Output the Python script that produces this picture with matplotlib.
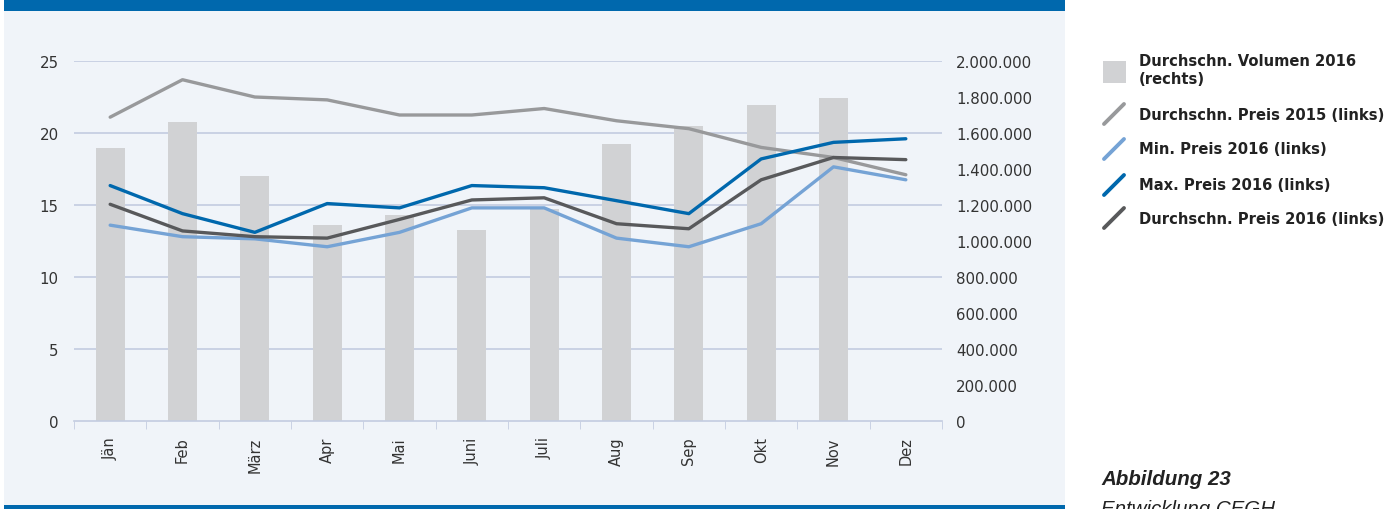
import matplotlib.pyplot as plt
import numpy as np
from matplotlib.lines import Line2D
from matplotlib.patches import Rectangle
from matplotlib.ticker import FuncFormatter

# monthly values
months = ["Jän", "Feb", "März", "Apr", "Mai", "Juni", "Juli", "Aug", "Sep", "Okt", "Nov", "Dez"]
volume_2016 = [1517000, 1661000, 1361000, 1089000, 1144000, 1061000, 1178000,
               1537000, 1637000, 1756000, 1796000, 0]
avg_price_2015 = [21.1, 23.7, 22.5, 22.3, 21.25, 21.25, 21.7, 20.85, 20.3, 19.0, 18.3, 17.1]
min_price_2016 = [13.6, 12.8, 12.65, 12.1, 13.1, 14.8, 14.8, 12.7, 12.1, 13.7, 17.65, 16.75]
max_price_2016 = [16.35, 14.4, 13.1, 15.1, 14.8, 16.35, 16.2, 15.3, 14.4, 18.2, 19.35, 19.6]
avg_price_2016 = [15.05, 13.2, 12.8, 12.7, 14.0, 15.35, 15.5, 13.7, 13.35, 16.75, 18.3, 18.15]

series = [
    ("Durchschn. Preis 2015 (links)", avg_price_2015, "#98999b"),
    ("Min. Preis 2016 (links)", min_price_2016, "#75a3d5"),
    ("Max. Preis 2016 (links)", max_price_2016, "#0068ad"),
    ("Durchschn. Preis 2016 (links)", avg_price_2016, "#58595b"),
]
bar_label = "Durchschn. Volumen 2016\n(rechts)"

BLUE = "#0068ad"
PANEL = "#f0f4f9"
GRID = "#c3cce0"
TEXT = "#333333"
plt.rcParams["font.family"] = ["DejaVu Sans"]

W, H = 1400, 510
fig = plt.figure(figsize=(W / 100, H / 100), dpi=100)
fig.patch.set_facecolor("white")

# background panel and blue bands
fig.add_artist(Rectangle((4 / W, 0), 1061 / W, 1, transform=fig.transFigure,
                         facecolor=PANEL, edgecolor="none", zorder=0))
fig.add_artist(Rectangle((4 / W, 1 - 12 / H), 1061 / W, 12 / H, transform=fig.transFigure,
                         facecolor=BLUE, edgecolor="none", zorder=1))
fig.add_artist(Rectangle((4 / W, 0), 1061 / W, 4 / H, transform=fig.transFigure,
                         facecolor=BLUE, edgecolor="none", zorder=1))

left, right, bottom, top = 74, 942, 422, 62
ax = fig.add_axes([left / W, 1 - bottom / H, (right - left) / W, (bottom - top) / H])
ax.set_facecolor("none")
ax2 = ax.twinx()
ax.set_zorder(ax2.get_zorder() + 1)
ax.patch.set_visible(False)

x = np.arange(len(months))
ax2.bar(x, volume_2016, width=0.4, color="#d1d2d4", zorder=1)
ax2.set_ylim(0, 2000000)
ax2.set_yticks(np.arange(0, 2000001, 200000))
ax2.yaxis.set_major_formatter(FuncFormatter(lambda v, p: f"{int(v):,}".replace(",", ".")))

for label, vals, col in series:
    ax.plot(x, vals, color=col, lw=2.4, solid_capstyle="round", solid_joinstyle="round")

ax.set_ylim(0, 25)
ax.set_yticks(range(0, 26, 5))
ax.set_xlim(-0.5, len(months) - 0.5)
ax.set_xticks(x)
ax.set_xticklabels(months, rotation=90)
ax.set_xticks(np.arange(-0.5, len(months)), minor=True)
ax.tick_params(axis="x", which="major", length=0, pad=11, labelsize=10.5, colors=TEXT)
ax.tick_params(axis="x", which="minor", length=6, color=GRID)
ax.tick_params(axis="y", length=0, pad=11, labelsize=10.8, colors=TEXT)
ax2.tick_params(axis="y", length=0, pad=10, labelsize=10.8, colors=TEXT)

# gridlines drawn behind bars
ax2.set_axisbelow(True)
for yv in range(5, 26, 5):
    ax2.axhline(yv * 80000, color=GRID, lw=1.2, zorder=0)

for a in (ax, ax2):
    for s in ("left", "right", "top"):
        a.spines[s].set_visible(False)
ax.spines["bottom"].set_color(GRID)
ax.spines["bottom"].set_linewidth(1.2)
ax2.spines["bottom"].set_visible(False)

# legend on the right
fig.add_artist(Rectangle((1103 / W, 1 - 84 / H), 23 / W, 22 / H, transform=fig.transFigure,
                         facecolor="#d1d2d4", edgecolor="none"))
fig.text(1139 / W, 1 - 71 / H, bar_label, fontsize=10.6, fontweight="bold",
         color="#222222", va="center", linespacing=1.25)
rows = [115, 150, 186, 219]
for (label, vals, col), yy in zip(series, rows):
    fig.add_artist(Line2D([1104 / W, 1124 / W], [1 - (yy + 10) / H, 1 - (yy - 10) / H],
                          transform=fig.transFigure, color=col, lw=2.8, solid_capstyle="round"))
    fig.text(1139 / W, 1 - yy / H, label, fontsize=10.6, fontweight="bold",
             color="#222222", va="center")

fig.text(1101 / W, 1 - 485 / H, "Abbildung 23", fontsize=14.8, fontweight="bold",
         style="italic", color="#222222", va="baseline", family="Liberation Sans")
fig.text(1101 / W, 1 - 515 / H, "Entwicklung CEGH", fontsize=14.8, style="italic",
         color="#222222", va="baseline", family="Liberation Sans")

fig.savefig("out.png", dpi=100)
